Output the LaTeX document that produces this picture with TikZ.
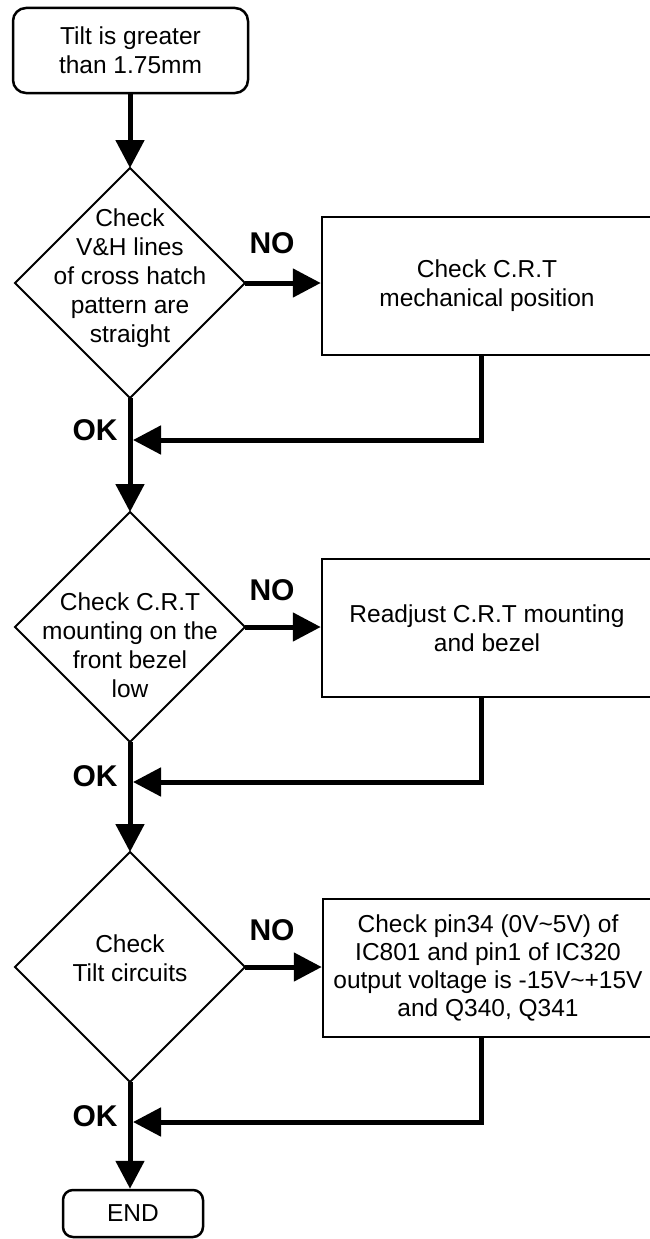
\documentclass[tikz,border=0pt]{standalone}
\usepackage{fontspec}
\setmainfont{Liberation Sans}
\usetikzlibrary{shapes.geometric,arrows.meta}
\begin{document}
\begin{tikzpicture}[x=1pt,y=-1pt,
  txt/.style={align=center,font=\fontsize{24.5pt}{29pt}\selectfont,inner sep=0pt},
  term/.style={draw,line width=2.5pt,rounded corners=13pt,inner sep=0pt,txt},
  decis/.style={draw,diamond,line width=2pt,minimum width=230pt,minimum height=230pt,inner sep=0pt,outer sep=0pt},
  procbox/.style={draw,line width=2.5pt,minimum width=330pt,minimum height=138pt,inner sep=0pt,txt},
  lbl/.style={font=\bfseries\fontsize{30pt}{36pt}\selectfont,inner sep=0pt},
  flow/.style={line width=5pt,-{Triangle[length=28pt,width=28pt]}},
  seg/.style={line width=5pt}
]
\useasboundingbox (0,0) rectangle (649,1239);
% terminals
\node[term,minimum width=235pt,minimum height=85pt] (start) at (130.5,50.5) {Tilt is greater\\than 1.75mm};
\node[term,minimum width=140pt,minimum height=47pt,rounded corners=10pt] (end) at (133,1213.5) {END};
% decisions
\node[decis] (d1) at (130,283) {};
\node[decis] (d2) at (130,627) {};
\node[decis] (d3) at (130,967) {};
\node[txt] (d1t) at (130,278) {Check\\V\&H lines\\of cross hatch\\pattern are\\straight};
\node[txt] (d2t) at (130,645) {Check C.R.T\\mounting on the\\front bezel\\low};
\node[txt] (d3t) at (130,958) {Check\\Tilt circuits};
% process boxes
\node[procbox] (b1) at (487,286) {Check C.R.T\\mechanical position};
\node[procbox] (b2) at (487,628) {Readjust C.R.T mounting\\and bezel};
\node[procbox,font=\fontsize{24.5pt}{28pt}\selectfont] (b3) at (488,968) {Check pin34 (0V\textasciitilde 5V) of\\IC801 and pin1 of IC320\\output voltage is -15V\textasciitilde +15V\\and Q340, Q341};
% labels
\node[lbl] (no1) at (272,243) {NO};
\node[lbl] (no2) at (272,590) {NO};
\node[lbl] (no3) at (272,930) {NO};
\node[lbl] (ok1) at (95,430) {OK};
\node[lbl] (ok2) at (95,776) {OK};
\node[lbl] (ok3) at (95,1116) {OK};
% return coordinates
\coordinate (r1) at (481,440);
\coordinate (r2) at (481,782);
\coordinate (r3) at (481,1122);
\coordinate (m1) at (133,440);
\coordinate (m2) at (133,782);
\coordinate (m3) at (133,1122);
% main flow
\draw[flow] (start.south -| d1.north) -- (d1.north);
\draw[flow] (d1.south) -- (d2.north);
\draw[flow] (d2.south) -- (d3.north);
\draw[flow] (d3.south) -- (d3.south |- end.north);
% NO branches
\draw[flow] (d1.east) -- (d1.east -| b1.west);
\draw[flow] (d2.east) -- (d2.east -| b2.west);
\draw[flow] (d3.east) -- (d3.east -| b3.west);
% returns
\draw[flow] (b1.south -| r1) -- (r1) -- (m1);
\draw[flow] (b2.south -| r2) -- (r2) -- (m2);
\draw[flow] (b3.south -| r3) -- (r3) -- (m3);
\end{tikzpicture}
\end{document}
